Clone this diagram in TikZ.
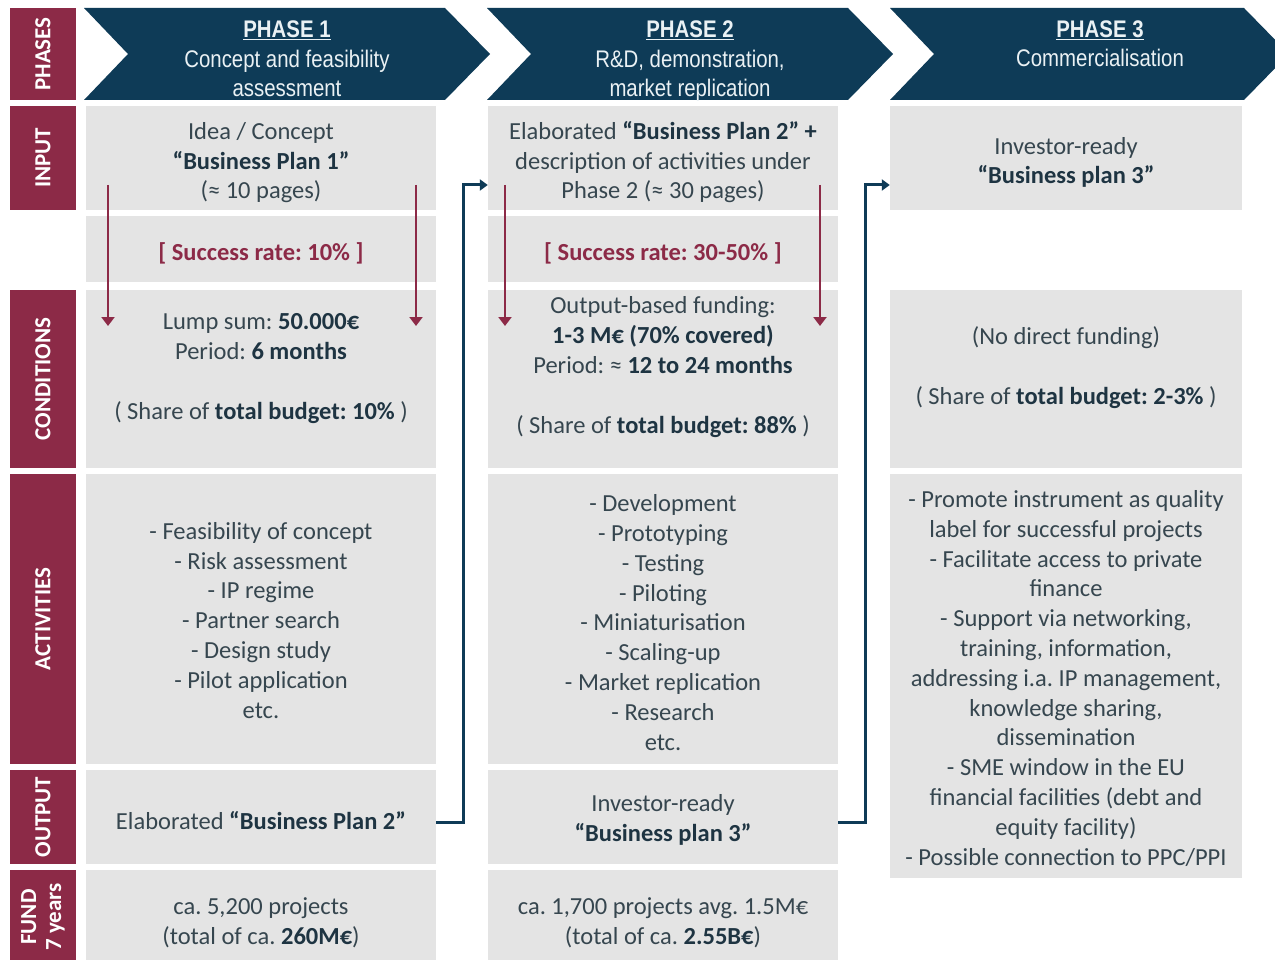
\documentclass[tikz,border=0pt]{standalone}
\usepackage{fontspec}
\setmainfont{Carlito}
\newfontfamily\hdfont[FakeStretch=0.85]{Liberation Sans}
\usetikzlibrary{arrows.meta}
\definecolor{maroon}{HTML}{8C2A47}
\definecolor{navy}{HTML}{0E3B57}
\definecolor{cellgray}{HTML}{E4E4E4}
\definecolor{txt}{HTML}{36464F}
\definecolor{bld}{HTML}{1E3442}
\definecolor{headtxt}{HTML}{EAF1F4}
\newcommand\mybold[1]{\textbf{\color{bld}#1}}
\tikzset{
  cell/.style={fill=cellgray, draw=none, inner sep=0pt, minimum width=350pt},
  rowlab/.style={fill=maroon, text=white, rotate=90, font=\frenchspacing\fontsize{23}{25}\selectfont\bfseries, inner sep=0pt, minimum height=66pt, align=center},
  body/.style={text=txt, font=\frenchspacing\fontsize{24.5}{29.8}\selectfont, align=center, anchor=base, inner sep=0pt},
  succ/.style={text=maroon, font=\frenchspacing\fontsize{24.5}{29.8}\selectfont\bfseries, anchor=base, inner sep=0pt},
  chev/.style={fill=navy},
  head/.style={text=headtxt, font=\frenchspacing\hdfont\fontsize{24}{29.5}\selectfont, align=center, anchor=base, inner sep=0pt},
  redarr/.style={draw=maroon, line width=2.5pt, -{Triangle[width=13pt,length=9pt]}},
  conn/.style={draw=navy, line width=3pt, -{Triangle[width=11pt,length=8pt]}}
}
\begin{document}
\begin{tikzpicture}[x=1pt,y=-1pt]
\useasboundingbox[fill=white] (0,0) rectangle (1275,960);
% row labels
\node[rowlab, minimum width=92pt] (lphases) at (43,54) {PHASES};
\node[rowlab, minimum width=104pt] (linput) at (43,158) {INPUT};
\node[rowlab, minimum width=178pt] (lcond) at (43,379) {CONDITIONS};
\node[rowlab, minimum width=290pt] (lact) at (43,619) {ACTIVITIES};
\node[rowlab, minimum width=94pt] (lout) at (43,817) {OUTPUT};
\node[rowlab, minimum width=94pt] (lfund) at (43,917) {FUND\\7 years};
% chevrons
\fill[chev] (84,8) -- (445,8) -- (490,54) -- (445,100) -- (84,100) -- (128,54) -- cycle;
\fill[chev] (487,8) -- (848,8) -- (893,54) -- (848,100) -- (487,100) -- (531,54) -- cycle;
\fill[chev] (890,8) -- (1244,8) -- (1289,54) -- (1244,100) -- (890,100) -- (934,54) -- cycle;
\node[head] (h1) at (287,97) {\underline{\textbf{PHASE 1}}\\Concept and feasibility\\assessment};
\node[head] (h2) at (690,97) {\underline{\textbf{PHASE 2}}\\R\&D, demonstration,\\market replication};
\node[head] (h3) at (1100,67) {\underline{\textbf{PHASE 3}}\\Commercialisation};
% column 1 cells
\node[cell, minimum height=104pt] (c1in) at (261,158) {};
\node[cell, minimum height=66pt] (c1suc) at (261,249) {};
\node[cell, minimum height=178pt] (c1cond) at (261,379) {};
\node[cell, minimum height=290pt] (c1act) at (261,619) {};
\node[cell, minimum height=94pt] (c1out) at (261,817) {};
\node[cell, minimum height=94pt] (c1fund) at (261,917) {};
% column 2 cells
\node[cell, minimum height=104pt] (c2in) at (663,158) {};
\node[cell, minimum height=66pt] (c2suc) at (663,249) {};
\node[cell, minimum height=178pt] (c2cond) at (663,379) {};
\node[cell, minimum height=290pt] (c2act) at (663,619) {};
\node[cell, minimum height=94pt] (c2out) at (663,817) {};
\node[cell, minimum height=94pt] (c2fund) at (663,917) {};
% column 3 cells
\node[cell, minimum width=352pt, minimum height=104pt] (c3in) at (1066,158) {};
\node[cell, minimum width=352pt, minimum height=178pt] (c3cond) at (1066,379) {};
\node[cell, minimum width=352pt, minimum height=404pt] (c3act) at (1066,676) {};
% texts column 1
\node[body] (t1in) at (261,199) {Idea / Concept\\\mybold{“Business Plan 1”}\\(≈ 10 pages)};
\node[succ] (t1suc) at (261,261) {[ Success rate: 10\% ]};
\node[body] (t1cond) at (261,419) {Lump sum: \mybold{50.000€}\\Period: \mybold{6 months}\\[29.8pt]( Share of \mybold{total budget: 10\%} )};
\node[body] (t1act) at (261,718) {- Feasibility of concept\\- Risk assessment\\- IP regime\\- Partner search\\- Design study\\- Pilot application\\etc.};
\node[body] (t1out) at (261,829) {Elaborated \mybold{“Business Plan 2”}};
\node[body] (t1fund) at (261,944) {ca. 5,200 projects\\(total of ca. \mybold{260M€})};
% texts column 2
\node[body] (t2in) at (663,199) {Elaborated \mybold{“Business Plan 2” +}\\description of activities under\\Phase 2 (≈ 30 pages)};
\node[succ] (t2suc) at (663,261) {[ Success rate: 30-50\% ]};
\node[body] (t2cond) at (663,433) {Output-based funding:\\\mybold{1-3 M€ (70\% covered)}\\Period: ≈ \mybold{12 to 24 months}\\[29.8pt]( Share of \mybold{total budget: 88\%} )};
\node[body] (t2act) at (663,750) {- Development\\- Prototyping\\- Testing\\- Piloting\\- Miniaturisation\\- Scaling-up\\- Market replication\\- Research\\etc.};
\node[body] (t2out) at (663,841) {Investor-ready\\\mybold{“Business plan 3”}};
\node[body] (t2fund) at (663,944) {ca. 1,700 projects avg. 1.5M€\\(total of ca. \mybold{2.55B€})};
% texts column 3
\node[body] (t3in) at (1066,184) {Investor-ready\\\mybold{“Business plan 3”}};
\node[body] (t3cond) at (1066,404) {(No direct funding)\\[29.8pt]( Share of \mybold{total budget: 2-3\%} )};
\node[body] (t3act) at (1066,865) {- Promote instrument as quality\\label for successful projects\\- Facilitate access to private\\finance\\- Support via networking,\\training, information,\\addressing i.a. IP management,\\knowledge sharing,\\dissemination\\- SME window in the EU\\financial facilities (debt and\\equity facility)\\- Possible connection to PPC/PPI};
% red arrows
\coordinate (r1s) at (108,185); \coordinate (r1e) at (108,326);
\coordinate (r2s) at (416,185); \coordinate (r2e) at (416,326);
\coordinate (r3s) at (505,185); \coordinate (r3e) at (505,326);
\coordinate (r4s) at (820,185); \coordinate (r4e) at (820,326);
\draw[redarr] (r1s) -- (r1e);
\draw[redarr] (r2s) -- (r2e);
\draw[redarr] (r3s) -- (r3e);
\draw[redarr] (r4s) -- (r4e);
% connectors
\coordinate (k1) at (463,185);
\coordinate (k2) at (865,185);
\draw[conn] ([yshift=-5pt]c1out.east) -| (k1) -- (c2in.west |- k1);
\draw[conn] ([yshift=-5pt]c2out.east) -| (k2) -- (c3in.west |- k2);
\end{tikzpicture}
\end{document}
